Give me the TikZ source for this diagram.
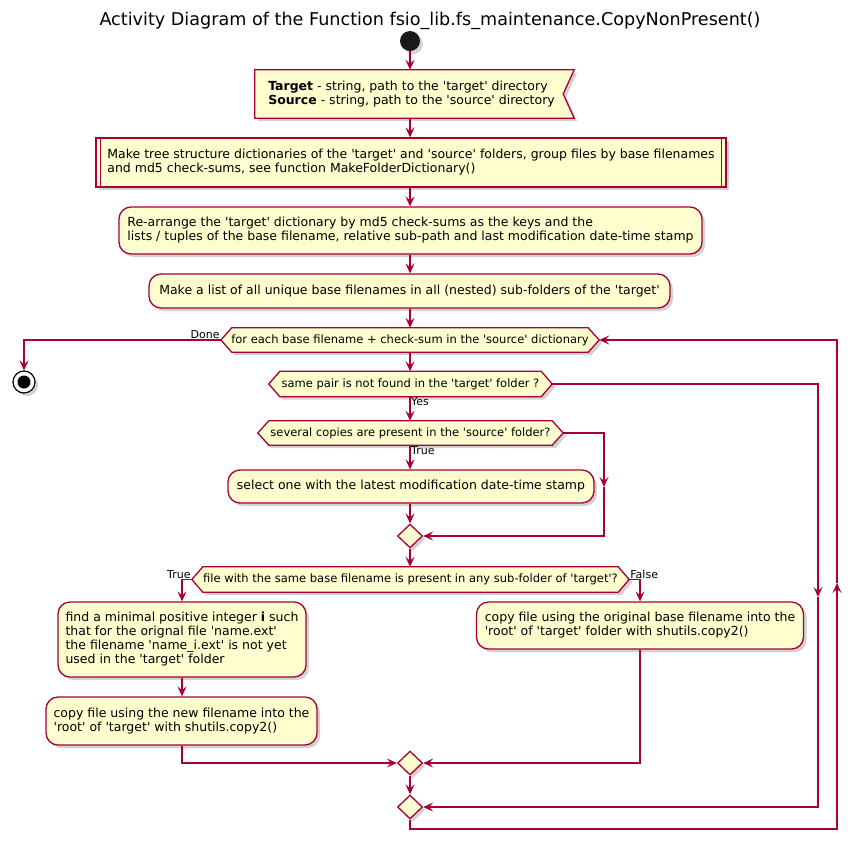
\documentclass[tikz,border=0pt]{standalone}
\usepackage{fontspec}
\setmainfont{DejaVu Sans}
\usetikzlibrary{arrows.meta,shapes.geometric,shadows,backgrounds,calc}
\definecolor{pborder}{HTML}{A80036}
\definecolor{pfill}{HTML}{FEFECE}
\newcommand{\sq}{\textquotesingle}
\tikzset{
  shad/.style={drop shadow={shadow xshift=3pt,shadow yshift=-3pt,opacity=0.25,fill=black!70}},
  actbox/.style={draw=pborder, fill=pfill, line width=1.3pt, rounded corners=12pt, shad, align=left, inner sep=0pt, font=\fontsize{12.5}{14}\selectfont},
  txtbox/.style={inner sep=0pt, align=left, font=\fontsize{12.5}{14}\selectfont},
  hexbox/.style={inner sep=0pt, align=center, font=\fontsize{11.5}{13}\selectfont},
  shapeline/.style={draw=pborder, fill=pfill, line width=1.3pt, shad},
  flow/.style={draw=pborder, line width=1.3pt, -{Stealth[length=10pt,width=9pt,inset=4pt]}},
  plain/.style={draw=pborder, line width=1.3pt},
  lbl/.style={inner sep=1pt, font=\fontsize{11}{13}\selectfont},
  merge/.style={diamond, draw=pborder, fill=pfill, line width=1.3pt, minimum width=25pt, minimum height=24pt, inner sep=0pt, shad},
}
\begin{document}
\begin{tikzpicture}[x=1pt,y=-1pt]
\useasboundingbox (0,0) rectangle (861,852);
\node (title) at (430,21) {\fontsize{17.6}{20}\selectfont Activity Diagram of the Function fsio\_lib.fs\_maintenance.CopyNonPresent()};
\node[circle, fill=black!90, minimum size=20pt, inner sep=0pt, shad] (start) at (410,41) {};
\node[txtbox, minimum width=313pt, minimum height=48pt] (in1) at (411.5,94) {\textbf{Target} - string, path to the \sq target\sq\ directory\\\textbf{Source} - string, path to the \sq source\sq\ directory};
\node[actbox, rounded corners=0pt, minimum width=630pt, minimum height=49pt] (sub) at (411,162.5) {Make tree structure dictionaries of the \sq target\sq\ and \sq source\sq\ folders, group files by base filenames\\and md5 check-sums, see function MakeFolderDictionary()};
\draw[plain] ([xshift=5pt]sub.north west) -- ([xshift=5pt]sub.south west);
\draw[plain] ([xshift=-5pt]sub.north east) -- ([xshift=-5pt]sub.south east);
\node[actbox, minimum width=583pt, minimum height=47pt] (re) at (410.5,230.5) {Re-arrange the \sq target\sq\ dictionary by md5 check-sums as the keys and the\\lists / tuples of the base filename, relative sub-path and last modification date-time stamp};
\node[actbox, minimum width=521pt, minimum height=34pt] (mk) at (409.5,291) {Make a list of all unique base filenames in all (nested) sub-folders of the \sq target\sq};
\node[hexbox, minimum width=378pt, minimum height=24pt] (loop) at (410,340) {for each base filename + check-sum in the \sq source\sq\ dictionary};
\node[hexbox, minimum width=283pt, minimum height=25pt] (hex2) at (410.5,384) {same pair is not found in the \sq target\sq\ folder ?};
\node[hexbox, minimum width=305pt, minimum height=24pt] (hex3) at (410.5,433) {several copies are present in the \sq source\sq\ folder?};
\node[actbox, minimum width=366pt, minimum height=33pt] (sel) at (411,486.5) {select one with the latest modification date-time stamp};
\node[merge] (m1) at (410,536) {};
\node[hexbox, minimum width=437pt, minimum height=25pt] (hex4) at (410.5,579.5) {file with the same base filename is present in any sub-folder of \sq target\sq?};
\node[actbox, minimum width=248pt, minimum height=75pt] (find) at (182,639.5) {find a minimal positive integer \textbf{i} such\\that for the orignal file \sq name.ext\sq\\the filename \sq name\_i.ext\sq\ is not yet\\used in the \sq target\sq\ folder};
\node[actbox, minimum width=271pt, minimum height=48pt] (cpn) at (181.5,721) {copy file using the new filename into the\\\sq root\sq\ of \sq target\sq\ with shutils.copy2()};
\node[actbox, minimum width=327pt, minimum height=47pt] (cpo) at (640,625.5) {copy file using the original base filename into the\\\sq root\sq\ of \sq target\sq\ folder with shutils.copy2()};
\node[merge] (m2) at (410,763) {};
\node[merge] (m3) at (410,807) {};
\node[circle, draw=black, fill=white, line width=1.2pt, minimum size=22pt, inner sep=0pt, shad] (stop) at (24,382) {};
\fill[black] (stop.center) circle (6.5pt);
\begin{scope}[on background layer]
\path[shapeline] (in1.north west) -- ([xshift=6pt]in1.north east) -- ([xshift=-5pt]in1.east) -- ([xshift=6pt]in1.south east) -- (in1.south west) -- cycle;
\foreach \n in {loop,hex2,hex3,hex4} {
  \path[shapeline] (\n.west) -- ([xshift=11pt]\n.north west) -- ([xshift=-11pt]\n.north east) -- (\n.east) -- ([xshift=-11pt]\n.south east) -- ([xshift=11pt]\n.south west) -- cycle;
}
\end{scope}
\coordinate (c1) at (818,597);
\coordinate (c2) at (837,829);
\coordinate (c3) at (837,583);
\coordinate (c4) at (604,487);
\draw[flow] (start.south) -- (start |- in1.north);
\draw[flow] (start |- in1.south) -- (start |- sub.north);
\draw[flow] (start |- sub.south) -- (start |- re.north);
\draw[flow] (start |- re.south) -- (start |- mk.north);
\draw[flow] (start |- mk.south) -- (start |- loop.north);
\draw[flow] (loop.west) -| (stop.north);
\node[lbl, anchor=south east] (ldone) at (loop.west) {Done};
\draw[flow] (start |- loop.south) -- (start |- hex2.north);
\draw[flow] (start |- hex2.south) -- (start |- hex3.north);
\node[lbl, anchor=north west] (lyes) at (start |- hex2.south) {Yes};
\draw[flow] (start |- hex3.south) -- (start |- sel.north);
\node[lbl, anchor=north west] (ltrue1) at (start |- hex3.south) {True};
\draw[flow] (start |- sel.south) -- (m1.north);
\draw[flow] (hex3.east) -| (c4);
\draw[flow] (c4) |- (m1.east);
\draw[flow] (m1.south) -- (start |- hex4.north);
\draw[flow] (hex4.west) -| (find.north);
\node[lbl, anchor=south east] (ltrue2) at (hex4.west) {True};
\draw[flow] (hex4.east) -| (cpo.north);
\node[lbl, anchor=south west] (lfalse) at (hex4.east) {False};
\draw[flow] (find.south) -- (find.south |- cpn.north);
\draw[flow] (find.south |- cpn.south) |- (m2.west);
\draw[flow] (cpo.south) |- (m2.east);
\draw[flow] (m2.south) -- (m3.north);
\draw[flow] (hex2.east) -| (c1);
\draw[flow] (c1) |- (m3.east);
\draw[flow] (m3.south) |- (c2) -- (c3);
\draw[flow] (c3) |- (loop.east);
\end{tikzpicture}
\end{document}
